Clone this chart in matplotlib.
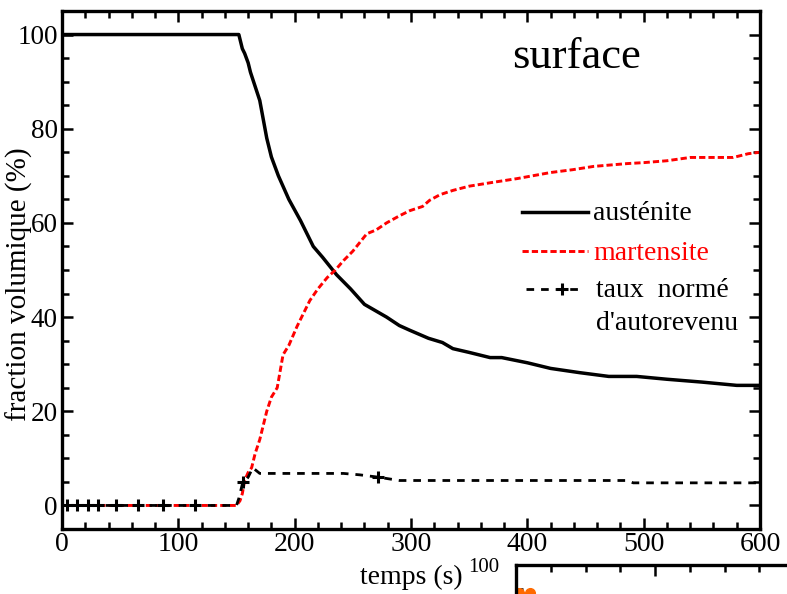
import matplotlib
matplotlib.use("Agg")
import matplotlib.pyplot as plt
from matplotlib.lines import Line2D
from matplotlib.ticker import MultipleLocator

plt.rcParams['font.family'] = ['Liberation Serif', 'DejaVu Serif']
plt.rcParams['lines.scale_dashes'] = False

# ---- data ----
aus_t = [0, 152, 155, 157, 160, 162, 166, 170, 176, 180, 186, 195, 205, 216, 224,
         236, 248, 260, 279, 290, 299, 315, 327, 336, 350, 368, 378, 400, 420, 445,
         470, 494, 520, 550, 580, 600]
aus_v = [100, 100, 97, 96, 94, 92, 89, 86, 78, 74, 70, 65, 60.5, 55, 52.7,
         49, 46, 42.7, 40, 38.2, 37.2, 35.5, 34.6, 33.3, 32.5, 31.4, 31.4, 30.3, 29.1, 28.2,
         27.4, 27.4, 26.8, 26.2, 25.5, 25.5]

mar_t = [0, 150, 153, 155, 157, 160, 163, 166, 170, 176, 180, 185, 190, 195, 202,
         213, 220, 228, 235, 242, 250, 262, 270, 279, 290, 299, 310, 316, 325, 336,
         350, 370, 391, 420, 439, 457, 486, 500, 520, 540, 577, 590, 600]
mar_v = [0, 0, 1, 2.5, 5.3, 7, 8, 11, 14, 20, 23, 25, 32, 34, 38,
         43.5, 46, 48.4, 50, 52, 54, 57.7, 58.5, 60, 61.5, 62.6, 63.5, 64.8, 66, 66.9,
         67.8, 68.6, 69.4, 70.7, 71.3, 72, 72.6, 72.8, 73.2, 73.9, 73.9, 74.7, 75]

taux_t = [0, 150, 152, 155, 157, 160, 164, 170, 242, 256, 272, 290, 486, 491, 600]
taux_v = [0, 0, 1.5, 4.5, 5, 6, 8, 6.8, 6.8, 6.5, 6.0, 5.3, 5.3, 4.8, 4.8]

taux_mark_t = [4, 13, 22, 31, 46, 65, 87, 114, 156, 272]
taux_mark_v = [0, 0, 0, 0, 0, 0, 0, 0, 5, 6.0]

# partial second panel (cut off at the bottom of the image)
p2_t = [2, 10]
p2_v = [94, 94]

labels = ["austénite", "martensite", "taux  normé", "d'autorevenu"]
xticks = [0, 100, 200, 300, 400, 500, 600]
yticks = [0, 20, 40, 60, 80, 100]

W, H = 787, 594
fig = plt.figure(figsize=(W / 100, H / 100), dpi=100)

def fx(px):
    return px / W

def fy(py):
    return 1 - py / H

ax = fig.add_axes([fx(62), fy(529), 698 / W, 518 / H])

ax.plot(aus_t, aus_v, color='black', lw=2.5, solid_joinstyle='round')
ax.plot(mar_t, mar_v, color='#ff0000', lw=2.1, dashes=(4.5, 2.2))
ax.plot(taux_t, taux_v, color='black', lw=2.0, dashes=(5.5, 5.0))
ax.plot(taux_mark_t, taux_mark_v, ls='none', marker='+', ms=8, mew=2.2, color='black')

ax.set_xlim(0, 600)
ax.set_ylim(-5, 105)
ax.set_xticks(xticks)
ax.set_yticks(yticks)
ax.xaxis.set_minor_locator(MultipleLocator(20))
ax.yaxis.set_minor_locator(MultipleLocator(5))
ax.tick_params(which='both', direction='in', top=True, right=True, width=1.8,
               labelsize=20)
ax.tick_params(which='major', length=8)
ax.tick_params(which='minor', length=5)
ax.tick_params(axis='y', pad=3, labelsize=19.5)
ax.tick_params(axis='x', pad=2)
for s in ax.spines.values():
    s.set_linewidth(2.4)

ax.set_xlabel("temps (s)", fontsize=20, labelpad=6)
fig.text(fx(19), fy(284), "fraction volumique (%)", fontsize=21, rotation=90,
         ha='center', va='center')

fig.text(fx(576), fy(68), "surface", fontsize=32, ha='center', va='baseline')

# legend drawn by hand
lx0, lx1, tx = fx(522), fx(588), fx(593)
fig.add_artist(Line2D([lx0, lx1], [fy(212), fy(212)], color='black', lw=2.5,
                      transform=fig.transFigure))
fig.text(tx, fy(214), labels[0], fontsize=20, va='center', ha='left')
fig.add_artist(Line2D([lx0, lx1], [fy(251), fy(251)], color='#ff0000', lw=2.1,
                      dashes=(4.5, 2.2), transform=fig.transFigure))
fig.text(tx, fy(253), labels[1], fontsize=20, va='center', ha='left', color='#ff0000')
fig.add_artist(Line2D([fx(526), fx(582)], [fy(289), fy(289)], color='black', lw=2.0,
                      dashes=(5.5, 5.0), transform=fig.transFigure))
fig.add_artist(Line2D([fx(562)], [fy(289)], color='black', ls='none', marker='+',
                      ms=8, mew=2.2, transform=fig.transFigure))
fig.text(fx(596), fy(291), labels[2], fontsize=20, va='center', ha='left')
fig.text(fx(596), fy(324), labels[3], fontsize=20, va='center', ha='left')

# second panel, mostly outside the image
ax2 = fig.add_axes([fx(516), fy(565 + 400), 417 / W, 400 / H])
ax2.plot(p2_t, p2_v, ls='none', marker='o', ms=7, color='#ff6a00')
ax2.set_xlim(0, 300)
ax2.set_ylim(100 - 400 / 4.71, 100)
ax2.set_yticks([100])
ax2.set_xticks([0, 100, 200, 300])
ax2.xaxis.set_minor_locator(MultipleLocator(25))
ax2.yaxis.set_minor_locator(MultipleLocator(5))
ax2.tick_params(which='both', direction='in', top=True, right=False, bottom=False,
                labelbottom=False, width=1.8, labelsize=15, pad=12)
ax2.tick_params(which='major', length=8)
ax2.tick_params(which='minor', length=5)
for s in ax2.spines.values():
    s.set_linewidth(2.4)

fig.savefig("out.png", dpi=100)
